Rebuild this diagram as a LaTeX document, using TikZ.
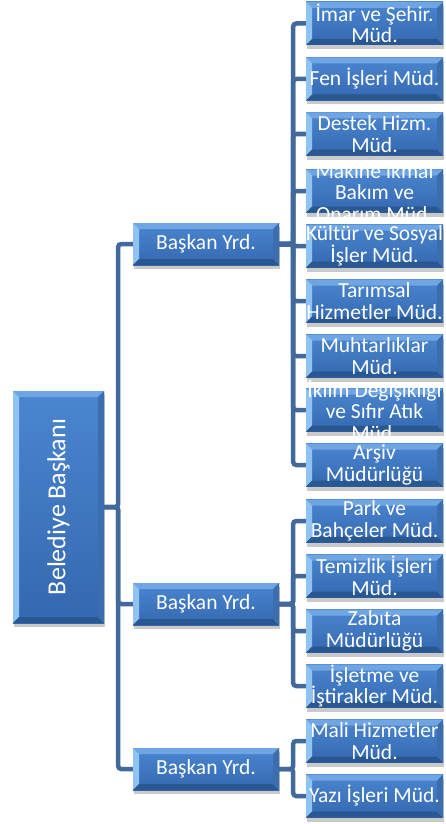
\documentclass[tikz,border=0pt]{standalone}
\usepackage{fontspec}
\setmainfont{Carlito}
\usepackage{xcolor}
\usetikzlibrary{shadows}

\definecolor{yuzust}{HTML}{4A86D0}
\definecolor{yuzalt}{HTML}{3468B0}
\definecolor{kenarust}{HTML}{6EA5E2}
\definecolor{kenarsol}{HTML}{8FC3F2}
\definecolor{kenaralt}{HTML}{285792}
\definecolor{kenarsag}{HTML}{3B6DAF}
\definecolor{hatrenk}{HTML}{41699C}

\tikzset{
	kutu/.style={inner sep=0pt, top color=yuzust, bottom color=yuzalt,
		drop shadow={shadow xshift=1pt, shadow yshift=-4pt, opacity=.3, fill=black!70},
		path picture={
			\path (path picture bounding box.south west) coordinate (sw)
				(path picture bounding box.north east) coordinate (ne);
			\fill[kenarust] (sw|-ne) -- (ne) -- ([shift={(-6pt,-6pt)}]ne) -- ([shift={(6pt,-6pt)}]sw|-ne) -- cycle;
			\fill[kenarsol] (sw|-ne) -- ([shift={(6pt,-6pt)}]sw|-ne) -- ([shift={(6pt,6pt)}]sw) -- (sw) -- cycle;
			\fill[kenaralt] (sw) -- (ne|-sw) -- ([shift={(-6pt,6pt)}]ne|-sw) -- ([shift={(6pt,6pt)}]sw) -- cycle;
			\fill[kenarsag] (ne) -- (ne|-sw) -- ([shift={(-6pt,6pt)}]ne|-sw) -- ([shift={(-6pt,-6pt)}]ne) -- cycle;
		}},
	yazi/.style={text=white, align=center, inner sep=0pt, font=\fontsize{21.5}{21.5}\selectfont},
	mudurluk/.style={kutu, minimum width=137pt, minimum height=43pt},
	yardimci/.style={kutu, minimum width=146pt, minimum height=42pt},
	hat/.style={draw=hatrenk, line width=4.5pt, rounded corners=3pt}
}

\begin{document}
\begin{tikzpicture}[x=1pt,y=-1pt]
	\useasboundingbox (0,0) rectangle (446,824);
	\node[kutu, minimum width=91pt, minimum height=232pt] (bb) at (58.5,507) {};
	\node[yardimci] (y1) at (206,244) {};
	\node[yardimci] (y2) at (206,604) {};
	\node[yardimci] (y3) at (206,769) {};
	\node[mudurluk] (m1) at (374.5,23.5) {};
	\node[mudurluk] (m2) at (374.5,79) {};
	\node[mudurluk] (m3) at (374.5,134) {};
	\node[mudurluk] (m4) at (374.5,191) {};
	\node[mudurluk] (m5) at (374.5,246) {};
	\node[mudurluk] (m6) at (374.5,301) {};
	\node[mudurluk] (m7) at (374.5,356) {};
	\node[mudurluk] (m8) at (374.5,410) {};
	\node[mudurluk] (m9) at (374.5,465) {};
	\node[mudurluk] (p1) at (374.5,521) {};
	\node[mudurluk] (p2) at (374.5,576) {};
	\node[mudurluk] (p3) at (374.5,631) {};
	\node[mudurluk] (p4) at (374.5,686) {};
	\node[mudurluk] (s1) at (374.5,741) {};
	\node[mudurluk] (s2) at (374.5,796) {};
	\node[yazi, font=\fontsize{26}{30}\selectfont, rotate=90] (bby) at (bb) {Belediye Başkanı};
	\node[yazi] (y1y) at (y1) {Başkan Yrd.};
	\node[yazi] (y2y) at (y2) {Başkan Yrd.};
	\node[yazi] (y3y) at (y3) {Başkan Yrd.};
	\node[yazi] (m1y) at (m1) {İmar ve Şehir.\\Müd.};
	\node[yazi] (m2y) at (m2) {Fen İşleri Müd.};
	\node[yazi] (m3y) at (m3) {Destek Hizm.\\Müd.};
	\node[yazi] (m4y) at (m4) {Makine İkmal\\Bakım ve\\Onarım Müd.};
	\node[yazi] (m5y) at (m5) {Kültür ve Sosyal\\İşler Müd.};
	\node[yazi] (m6y) at (m6) {Tarımsal\\Hizmetler Müd.};
	\node[yazi] (m7y) at (m7) {Muhtarlıklar\\Müd.};
	\node[yazi] (m8y) at (m8) {İklim Değişikliği\\ve Sıfır Atık\\Müd.};
	\node[yazi] (m9y) at (m9) {Arşiv\\Müdürlüğü};
	\node[yazi] (p1y) at (p1) {Park ve\\Bahçeler Müd.};
	\node[yazi] (p2y) at (p2) {Temizlik İşleri\\Müd.};
	\node[yazi] (p3y) at (p3) {Zabıta\\Müdürlüğü};
	\node[yazi] (p4y) at (p4) {İşletme ve\\İştirakler Müd.};
	\node[yazi] (s1y) at (s1) {Mali Hizmetler\\Müd.};
	\node[yazi] (s2y) at (s2) {Yazı İşleri Müd.};
	\draw[hat] (bb.east) -- ++(14,0) |- (y1.west);
	\draw[hat] (bb.east) -- ++(14,0) |- (y2.west);
	\draw[hat] (bb.east) -- ++(14,0) |- (y3.west);
	\draw[hat] (y1.east) -- ++(14,0) |- (m1.west);
	\draw[hat] (y1.east) -- ++(14,0) |- (m2.west);
	\draw[hat] (y1.east) -- ++(14,0) |- (m3.west);
	\draw[hat] (y1.east) -- ++(14,0) |- (m4.west);
	\draw[hat] (y1.east) -- ++(14,0) |- (m5.west);
	\draw[hat] (y1.east) -- ++(14,0) |- (m6.west);
	\draw[hat] (y1.east) -- ++(14,0) |- (m7.west);
	\draw[hat] (y1.east) -- ++(14,0) |- (m8.west);
	\draw[hat] (y1.east) -- ++(14,0) |- (m9.west);
	\draw[hat] (y2.east) -- ++(14,0) |- (p1.west);
	\draw[hat] (y2.east) -- ++(14,0) |- (p2.west);
	\draw[hat] (y2.east) -- ++(14,0) |- (p3.west);
	\draw[hat] (y2.east) -- ++(14,0) |- (p4.west);
	\draw[hat] (y3.east) -- ++(14,0) |- (s1.west);
	\draw[hat] (y3.east) -- ++(14,0) |- (s2.west);
\end{tikzpicture}
\end{document}
